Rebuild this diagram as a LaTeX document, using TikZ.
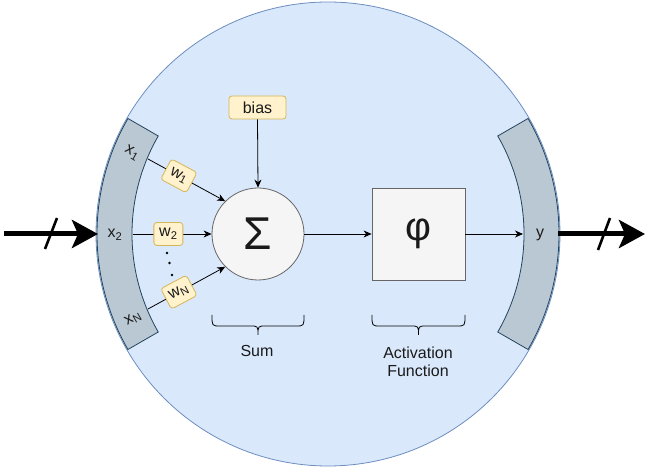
\documentclass[tikz,border=0pt]{standalone}
\usepackage{fontspec}
\setmainfont{Liberation Sans}
\usetikzlibrary{arrows.meta,calc}
\definecolor{cellfill}{HTML}{DAE8FC}
\definecolor{celldraw}{HTML}{6C8EBF}
\definecolor{barfill}{HTML}{BAC8D3}
\definecolor{bardraw}{HTML}{23445D}
\definecolor{grayfill}{HTML}{F5F5F5}
\definecolor{graydraw}{HTML}{666666}
\definecolor{yelfill}{HTML}{FFF2CC}
\definecolor{yeldraw}{HTML}{D6B656}
\definecolor{txt}{HTML}{1A1A1A}
\tikzset{
  barshape/.style={fill=barfill,draw=bardraw,line width=0.8pt},
  opbox/.style={draw=graydraw,fill=grayfill,line width=0.8pt,inner sep=0pt,text=txt},
  ybox/.style={draw=yeldraw,fill=yelfill,line width=0.8pt,rounded corners=3pt,inner sep=0pt,text=txt,font=\fontsize{16}{18}\selectfont},
  wbox/.style={ybox,minimum width=29pt,minimum height=23pt},
  lbl/.style={text=txt,font=\fontsize{16}{18}\selectfont,inner sep=0pt},
  xlbl/.style={text=txt,font=\fontsize{16}{18}\selectfont,inner sep=0pt},
  conn/.style={draw=black,line width=0.8pt,-{Stealth[length=8pt,width=7pt,inset=2.5pt]}},
  bigarrow/.style={draw=black,line width=5pt,-{Stealth[length=26pt,width=28pt,inset=6pt]}},
  slash/.style={draw=black,line width=2.6pt},
  bracepath/.style={draw=black,line width=0.8pt},
  dotnode/.style={circle,fill=black,inner sep=0pt,minimum size=2.8pt}
}
\begin{document}
\begin{tikzpicture}[x=1pt,y=1pt]
\useasboundingbox (0,0) rectangle (645,468);
\coordinate (C) at (328,234);
% body
\node[circle,draw=celldraw,fill=cellfill,line width=0.8pt,minimum size=464pt,inner sep=0pt] (body) at (C) {};
% input / output bars
\draw[barshape] ($(C)+(150:231)$) arc[start angle=150,end angle=210,radius=231pt]
  -- ($(C)+(210:196)$) arc[start angle=210,end angle=150,radius=196pt] -- cycle;
\draw[barshape] ($(C)+(-30:231)$) arc[start angle=-30,end angle=30,radius=231pt]
  -- ($(C)+(30:196)$) arc[start angle=30,end angle=-30,radius=196pt] -- cycle;
% labels on bars
\node[xlbl,rotate=-30] (x1) at (132,315) {x\textsubscript{1}};
\node[xlbl] (x2) at (115,233) {x\textsubscript{2}};
\node[xlbl,rotate=30] (xN) at (133,149) {x\textsubscript{N}};
\node[xlbl] (ylbl) at (540,233) {y};
% points
\coordinate (x1p) at (148,309);
\coordinate (x2p) at (133,234);
\coordinate (xNp) at (148,159);
\coordinate (yin) at (523,234);
\coordinate (inS) at (4,234);
\coordinate (inE) at (98,234);
\coordinate (outS) at (558,234);
\coordinate (outE) at (645,234);
% main nodes
\node[opbox,circle,minimum size=92pt,font=\fontsize{46}{50}\selectfont] (sum) at (258,234) {Σ};
\node[opbox,minimum width=93pt,minimum height=92pt,font=\fontsize{40}{44}\selectfont] (phi) at (418.5,234) {φ};
\node[ybox,minimum width=57pt,minimum height=23pt] (bias) at (257.5,360.5) {bias};
% connectors
\draw[conn] (x1p) -- (sum.135) node[wbox,pos=0.4,rotate=-28] (w1) {w\textsubscript{1}};
\draw[conn] (x2p) -- (sum.west) node[wbox,pos=0.45] (w2) {w\textsubscript{2}};
\draw[conn] (xNp) -- (sum.225) node[wbox,pos=0.4,rotate=28] (wN) {w\textsubscript{N}};
\draw[conn] (bias.south) -- (sum.north);
\draw[conn] (sum.east) -- (phi.west);
\draw[conn] (phi.east) -- (yin);
% dots
\node[dotnode] (d1) at (167,215) {};
\node[dotnode] (d2) at (169.5,205) {};
\node[dotnode] (d3) at (172,193) {};
% thick in/out arrows
\draw[bigarrow] (inS) -- (inE);
\draw[slash] (45,219) -- (57,250);
\draw[bigarrow] (outS) -- (outE);
\draw[slash] (598,218) -- (610,250);
% braces
\draw[bracepath] (212,153) .. controls (212,142) .. (220,142) -- (250,142) .. controls (258,142) .. (258,133)
  .. controls (258,142) .. (266,142) -- (296,142) .. controls (304,142) .. (304,153);
\draw[bracepath] (372,153) .. controls (372,142) .. (380,142) -- (410.5,142) .. controls (418.5,142) .. (418.5,133)
  .. controls (418.5,142) .. (426.5,142) -- (457,142) .. controls (465,142) .. (465,153);
\node[lbl] (sumlbl) at (257,117) {Sum};
\node[lbl,align=center] (actlbl) at (418,106) {Activation\\Function};
\end{tikzpicture}
\end{document}
